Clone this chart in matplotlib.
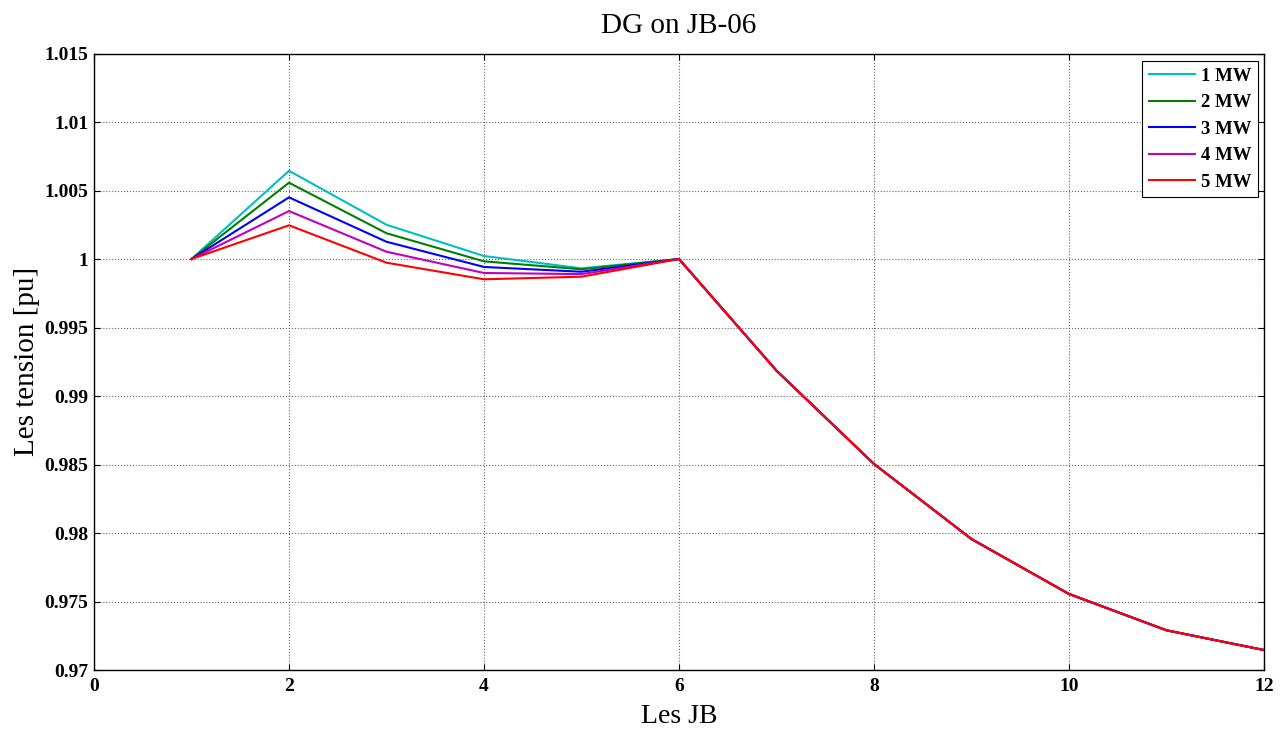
import matplotlib
matplotlib.use("Agg")
import matplotlib.pyplot as plt

# Junction bus index and voltage profiles for each DG size
jb = [1, 2, 3, 4, 5, 6, 7, 8, 9, 10, 11, 12]
v_1mw = [1.0, 1.00644, 1.0025, 1.00022, 0.99932, 1.0, 0.99185, 0.98504, 0.97956, 0.97555, 0.97290, 0.97146]
v_2mw = [1.0, 1.00557, 1.00188, 0.99983, 0.99925, 1.0, 0.99185, 0.98504, 0.97956, 0.97555, 0.97290, 0.97146]
v_3mw = [1.0, 1.00450, 1.00126, 0.99942, 0.99907, 1.0, 0.99185, 0.98504, 0.97956, 0.97555, 0.97290, 0.97146]
v_4mw = [1.0, 1.00350, 1.00053, 0.99898, 0.99890, 1.0, 0.99185, 0.98504, 0.97956, 0.97555, 0.97290, 0.97146]
v_5mw = [1.0, 1.00246, 0.99973, 0.99852, 0.99871, 1.0, 0.99185, 0.98504, 0.97956, 0.97555, 0.97290, 0.97146]

series = [v_1mw, v_2mw, v_3mw, v_4mw, v_5mw]
labels = ["1 MW", "2 MW", "3 MW", "4 MW", "5 MW"]
colors = ["#00BFBF", "#008000", "#0000FF", "#BF00BF", "#FF0000"]

xticks = [0, 2, 4, 6, 8, 10, 12]
yticks = [0.97, 0.975, 0.98, 0.985, 0.99, 0.995, 1.0, 1.005, 1.01, 1.015]
yticklabels = ["0.97", "0.975", "0.98", "0.985", "0.99", "0.995", "1", "1.005", "1.01", "1.015"]

plt.rcParams["font.family"] = ["Liberation Serif", "DejaVu Serif"]

fig = plt.figure(figsize=(12.86, 7.31), dpi=100)
ax = fig.add_axes([0.0731, 0.0834, 0.9098, 0.8434])

for vals, lab, col in zip(series, labels, colors):
    ax.plot(jb, vals, color=col, linewidth=1.5, label=lab)

ax.set_xlim(0, 12)
ax.set_ylim(0.97, 1.015)
ax.set_xticks(xticks)
ax.set_xticklabels([str(t) for t in xticks])
ax.set_yticks(yticks)
ax.set_yticklabels(yticklabels)

for lbl in ax.get_xticklabels() + ax.get_yticklabels():
    lbl.set_fontweight("bold")
    lbl.set_fontsize(14)

ax.tick_params(direction="in", top=True, right=True, length=4, width=0.8)
ax.tick_params(axis="x", pad=6)
ax.tick_params(axis="y", pad=4)
ax.grid(True, linestyle=":", color="#666666", linewidth=0.8)

for sp in ax.spines.values():
    sp.set_linewidth(1.0)
    sp.set_color("black")

ax.set_title("DG on JB-06", fontsize=21, pad=15)
ax.set_xlabel("Les JB", fontsize=20, labelpad=6)
ax.set_ylabel("Les tension [pu]", fontsize=21, labelpad=3)

leg = ax.legend(loc="upper right", bbox_to_anchor=(0.995, 0.988),
                prop={"weight": "bold", "size": 13.5}, frameon=True,
                fancybox=False, edgecolor="black", framealpha=1,
                handlelength=2.5, labelspacing=0.5, borderpad=0.35,
                handletextpad=0.3, borderaxespad=0.0)
leg.get_frame().set_linewidth(0.8)

fig.savefig("out.png", dpi=100)
